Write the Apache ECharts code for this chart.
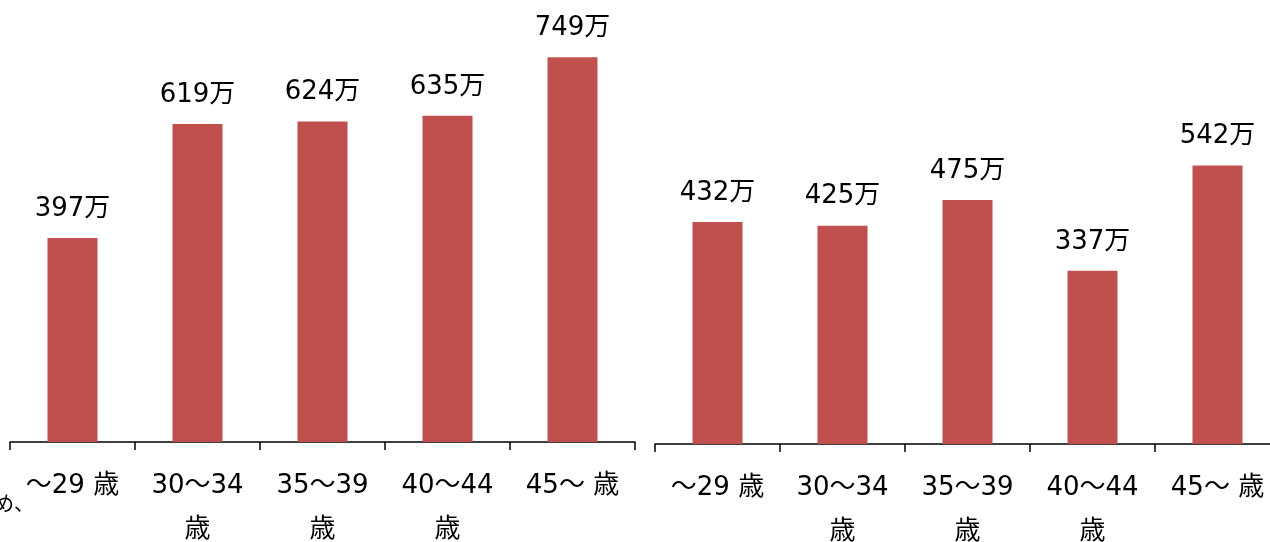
<!DOCTYPE html>
<html><head><meta charset="utf-8">
<style>html,body{margin:0;padding:0;background:#fff}#c{width:1270px;height:542px}</style>
<script src="https://cdn.jsdelivr.net/npm/echarts@6/dist/echarts.min.js"></script>
</head><body><div id="c"></div>
<script>
const categories = ['～29 歳', '30～34\n歳', '35～39\n歳', '40～44\n歳', '45～ 歳'];
const leftValues = [397, 619, 624, 635, 749];
const rightValues = [432, 425, 475, 337, 542];
const unitSuffix = '万';

const FONT = "'DejaVu Sans', 'Noto Sans CJK JP', sans-serif";
const chart = echarts.init(document.getElementById('c'), null, {renderer: 'canvas'});

function xAxisDef(gridIndex) {
  return {
    type: 'category', gridIndex, data: categories,
    axisLine: {lineStyle: {color: '#000', width: 1.5}},
    axisTick: {show: true, length: 8, lineStyle: {color: '#000', width: 1.5}},
    axisLabel: {color: '#000', fontSize: 26, fontFamily: FONT, lineHeight: 44, margin: 22, interval: 0}
  };
}
function yAxisDef(gridIndex) {
  return {type: 'value', gridIndex, min: 0, max: 800, show: false, splitLine: {show: false}};
}
function seriesDef(idx, values) {
  return {
    type: 'bar', xAxisIndex: idx, yAxisIndex: idx, data: values, barWidth: '40%',
    itemStyle: {color: '#C0504D'},
    label: {show: true, position: 'top', distance: 16, color: '#000', fontSize: 26, fontFamily: FONT,
      formatter: p => p.value + unitSuffix},
    animation: false
  };
}

chart.setOption({
  animation: false,
  grid: [
    {left: 10, width: 625, top: 31, bottom: 100, containLabel: false, outerBoundsMode: 'none'},
    {left: 655, width: 625, top: 33, bottom: 98, containLabel: false, outerBoundsMode: 'none'}
  ],
  xAxis: [xAxisDef(0), xAxisDef(1)],
  yAxis: [yAxisDef(0), yAxisDef(1)],
  series: [seriesDef(0, leftValues), seriesDef(1, rightValues)],
  graphic: [{
    type: 'text', x: -6, y: 496,
    style: {text: 'め、', fontSize: 20, fontFamily: FONT, fill: '#000'}
  }]
});
</script></body></html>
